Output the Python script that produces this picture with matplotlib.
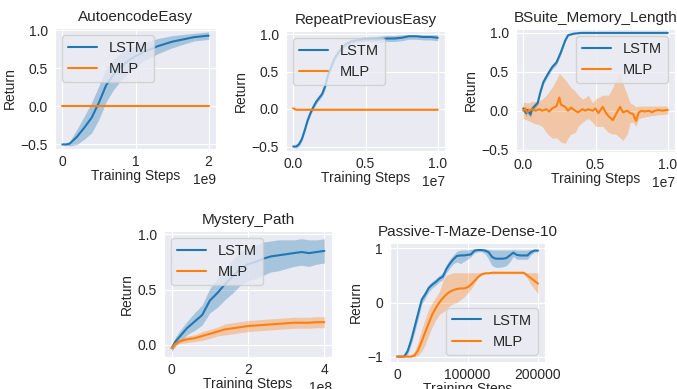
import numpy as np
import matplotlib
matplotlib.use("Agg")
import matplotlib.pyplot as plt
import seaborn as sns

# ---- AutoencodeEasy (x in 1e9 steps)
ae_x = [0, 0.05, 0.1, 0.2, 0.3, 0.4, 0.5, 0.6, 0.7, 0.8, 0.9, 1.0, 1.1, 1.2, 1.3, 1.4,
        1.5, 1.6, 1.7, 1.8, 1.9, 2.0]
ae_lstm = [-0.5, -0.5, -0.49, -0.4, -0.28, -0.15, 0.05, 0.28, 0.42, 0.52, 0.6, 0.66,
           0.71, 0.75, 0.79, 0.82, 0.85, 0.87, 0.89, 0.91, 0.92, 0.93]
ae_lstm_sd = [0, 0.01, 0.03, 0.1, 0.15, 0.2, 0.22, 0.22, 0.2, 0.18, 0.16, 0.14, 0.12,
              0.11, 0.1, 0.09, 0.08, 0.07, 0.06, 0.05, 0.05, 0.05]
ae_mlp = [0.0] * len(ae_x)

# ---- RepeatPreviousEasy (x in 1e7 steps)
rp_x = [0, 0.02, 0.04, 0.06, 0.08, 0.1, 0.12, 0.14, 0.16, 0.18, 0.2, 0.22, 0.24, 0.26,
        0.28, 0.3, 0.33, 0.36, 0.4, 0.45, 0.5, 0.55, 0.6, 0.65, 0.7, 0.75, 0.8, 0.85,
        0.9, 0.95, 1.0]
rp_lstm = [-0.5, -0.5, -0.47, -0.4, -0.28, -0.15, -0.05, 0.03, 0.1, 0.15, 0.2, 0.3,
           0.45, 0.55, 0.65, 0.72, 0.8, 0.86, 0.9, 0.92, 0.93, 0.93, 0.93, 0.94, 0.94,
           0.95, 0.97, 0.97, 0.96, 0.96, 0.95]
rp_lstm_sd = [0.01, 0.02, 0.03, 0.03, 0.03, 0.03, 0.03, 0.03, 0.03, 0.03, 0.03, 0.04,
              0.04, 0.04, 0.04, 0.03, 0.03, 0.03, 0.03, 0.03, 0.03, 0.03, 0.04, 0.04,
              0.04, 0.04, 0.04, 0.04, 0.04, 0.04, 0.04]
rp_mlp = [0.01] + [-0.01] * (len(rp_x) - 1)

# ---- BSuite_Memory_Length (x in 1e7 steps)
ms_lstm_x = [0, 0.02, 0.03, 0.05, 0.06, 0.08, 0.1, 0.12, 0.14, 0.17, 0.2, 0.23, 0.26,
             0.29, 0.31, 0.35, 0.4, 0.5, 0.6, 0.7, 0.8, 0.9, 1.0]
ms_lstm = [0.03, -0.03, 0.01, -0.05, 0.02, 0.06, 0.1, 0.25, 0.37, 0.47, 0.56, 0.62,
           0.75, 0.9, 0.97, 0.99, 1.0, 1.0, 1.0, 1.0, 1.0, 1.0, 1.0]
ms_lstm_sd = [0.04, 0.04, 0.04, 0.04, 0.04, 0.04, 0.03, 0.03, 0.03, 0.03, 0.03, 0.03,
              0.03, 0.02, 0.01, 0.005, 0.003, 0.002, 0.002, 0.002, 0.002, 0.002, 0.002]
ms_mlp_x = [0.0, 0.015, 0.026, 0.04, 0.06, 0.085, 0.11, 0.13, 0.16, 0.18, 0.2, 0.23,
            0.25, 0.26, 0.29, 0.31, 0.33, 0.36, 0.38, 0.41, 0.43, 0.45, 0.48, 0.5,
            0.52, 0.55, 0.57, 0.59, 0.62, 0.64, 0.67, 0.69, 0.72, 0.74, 0.76, 0.78,
            0.8, 0.82, 0.84, 0.87, 0.89, 0.91, 0.94, 0.96, 1.0]
ms_mlp = [0.0, 0.03, -0.02, 0.0, 0.02, 0.0, 0.02, 0.0, 0.02, -0.01, 0.03, 0.06,
          0.17, 0.08, 0.05, 0.0, 0.04, 0.0, -0.02, 0.02, 0.0, 0.02, 0.0, 0.03,
          -0.03, 0.05, -0.02, -0.07, -0.12, -0.05, 0.05, -0.02, 0.0, -0.03, -0.04, -0.13,
          -0.02, 0.0, -0.01, 0.0, -0.02, 0.0, 0.01, 0.0, 0.01]
ms_mlp_lo = [-0.1, -0.11, -0.12, -0.13, -0.15, -0.17, -0.18, -0.2, -0.28, -0.32, -0.35, -0.35,
             -0.38, -0.4, -0.42, -0.35, -0.3, -0.28, -0.2, -0.15, -0.12, -0.1, -0.15, -0.2,
             -0.2, -0.2, -0.24, -0.28, -0.3, -0.3, -0.35, -0.38, -0.3, -0.15, -0.15, -0.2,
             -0.1, -0.09, -0.08, -0.07, -0.06, -0.06, -0.05, -0.05, -0.04]
ms_mlp_hi = [0.1, 0.11, 0.1, 0.1, 0.12, 0.12, 0.13, 0.15, 0.2, 0.25, 0.3, 0.4,
             0.48, 0.46, 0.4, 0.35, 0.3, 0.25, 0.2, 0.15, 0.17, 0.2, 0.1, 0.15,
             0.17, 0.2, 0.2, 0.2, 0.3, 0.4, 0.47, 0.35, 0.2, 0.1, 0.08, 0.05,
             0.06, 0.06, 0.06, 0.06, 0.06, 0.06, 0.06, 0.06, 0.06]

# ---- Mystery_Path (x in 1e8 steps)
mp_x = [0, 0.1, 0.2, 0.4, 0.6, 0.8, 1.0, 1.2, 1.4, 1.6, 1.8, 2.0, 2.2, 2.4, 2.6, 2.8,
        3.0, 3.2, 3.4, 3.6, 3.8, 4.0]
mp_lstm = [-0.03, 0.03, 0.07, 0.15, 0.21, 0.27, 0.4, 0.47, 0.55, 0.62, 0.69, 0.73,
           0.75, 0.78, 0.8, 0.81, 0.82, 0.83, 0.84, 0.83, 0.84, 0.85]
mp_lstm_sd = [0.03, 0.04, 0.05, 0.06, 0.08, 0.09, 0.11, 0.13, 0.14, 0.15, 0.15, 0.15,
              0.15, 0.15, 0.14, 0.14, 0.13, 0.12, 0.12, 0.12, 0.11, 0.11]
mp_mlp = [-0.03, 0.01, 0.03, 0.05, 0.06, 0.08, 0.1, 0.12, 0.14, 0.15, 0.16, 0.17,
          0.175, 0.18, 0.185, 0.19, 0.195, 0.2, 0.2, 0.2, 0.205, 0.205]
mp_mlp_sd = [0.02, 0.02, 0.02, 0.03, 0.03, 0.04, 0.04, 0.04, 0.05, 0.05, 0.05, 0.05,
             0.05, 0.05, 0.05, 0.05, 0.05, 0.05, 0.05, 0.05, 0.05, 0.05]

# ---- Passive-T-Maze-Dense-10 (x in raw steps)
tm_x = list(range(0, 200001, 5000))
tm_lstm = [-1, -1, -1, -0.9, -0.7, -0.45, -0.2, 0.05, 0.15, 0.27, 0.33, 0.38, 0.44,
           0.48, 0.62, 0.72, 0.8, 0.86, 0.87, 0.87, 0.88, 0.89, 0.96, 0.97, 0.97,
           0.96, 0.93, 0.84, 0.81, 0.81, 0.81, 0.82, 0.87, 0.92, 0.88, 0.87, 0.87,
           0.87, 0.93, 0.96, 0.96]
tm_lstm_lo = [-1, -1, -1, -0.96, -0.78, -0.55, -0.3, -0.03, 0.08, 0.2, 0.27, 0.32, 0.38,
              0.42, 0.55, 0.64, 0.72, 0.75, 0.72, 0.76, 0.8, 0.85, 0.92, 0.94, 0.94,
              0.9, 0.8, 0.68, 0.65, 0.65, 0.66, 0.68, 0.75, 0.85, 0.8, 0.8, 0.8,
              0.8, 0.88, 0.93, 0.94]
tm_lstm_hi = [-1, -1, -0.98, -0.82, -0.6, -0.35, -0.1, 0.12, 0.22, 0.33, 0.39, 0.44, 0.5,
              0.55, 0.7, 0.8, 0.88, 0.95, 0.97, 0.97, 0.97, 0.98, 0.99, 0.99, 0.99,
              0.99, 0.98, 0.97, 0.97, 0.97, 0.97, 0.97, 0.97, 0.98, 0.97, 0.97, 0.97,
              0.97, 0.98, 0.98, 0.98]
tm_mlp = [-1, -1, -1, -1, -1, -0.98, -0.88, -0.72, -0.55, -0.38, -0.22, -0.1, 0.0,
          0.08, 0.15, 0.2, 0.23, 0.25, 0.26, 0.26, 0.28, 0.33, 0.4, 0.47, 0.52,
          0.54, 0.54, 0.55, 0.55, 0.55, 0.55, 0.55, 0.55, 0.55, 0.55, 0.55, 0.55,
          0.5, 0.45, 0.4, 0.35]
tm_mlp_lo = [-1, -1, -1, -1, -1, -1, -0.98, -0.9, -0.78, -0.6, -0.45, -0.32, -0.22,
             -0.18, -0.12, -0.06, -0.02, 0.0, 0.05, 0.1, 0.17, 0.25, 0.35, 0.46, 0.51,
             0.53, 0.53, 0.53, 0.53, 0.53, 0.53, 0.53, 0.53, 0.53, 0.53, 0.53, 0.53,
             0.45, 0.33, 0.25, 0.16]
tm_mlp_hi = [-1, -1, -1, -1, -0.97, -0.9, -0.72, -0.5, -0.3, -0.12, 0.0, 0.1, 0.2,
             0.4, 0.5, 0.53, 0.55, 0.55, 0.55, 0.55, 0.55, 0.55, 0.55, 0.55, 0.55,
             0.55, 0.55, 0.55, 0.55, 0.55, 0.55, 0.55, 0.55, 0.55, 0.55, 0.55, 0.55,
             0.55, 0.55, 0.55, 0.55]

BLUE = "#1f77b4"
ORANGE = "#ff7f0e"
FS = 10          # ticks / axis labels
FS_TITLE = 11
FS_LEGEND = 10.5

sns.set_style("darkgrid")
plt.rcParams["font.family"] = ["Liberation Sans", "DejaVu Sans"]
plt.rcParams["font.size"] = FS


def band(ax, x, y, lo, hi, color, label, scale):
    x = np.asarray(x) * scale
    ax.plot(x, y, color=color, lw=1.5, label=label)
    ax.fill_between(x, lo, hi, color=color, alpha=0.33, lw=0)


def sd_band(ax, x, y, sd, color, label, scale):
    y = np.asarray(y)
    sd = np.asarray(sd)
    band(ax, x, y, y - sd, np.minimum(y + sd, 0.99), color, label, scale)


def finish(ax, title, yticks, loc):
    ax.set_title(title, fontsize=FS_TITLE, pad=5)
    ax.set_xlabel("Training Steps", fontsize=FS, labelpad=0)
    ax.set_ylabel("Return", fontsize=FS, labelpad=3)
    ax.set_yticks(yticks)
    ax.tick_params(axis="x", labelsize=FS, pad=1)
    ax.tick_params(axis="y", labelsize=FS, pad=1.5)
    ax.xaxis.get_offset_text().set_fontsize(FS)
    ax.legend(loc=loc, fontsize=FS_LEGEND)


fig = plt.figure(figsize=(6.77, 3.89), dpi=100)
W, H = 677.0, 389.0


def axes_px(left, top, right, bottom):
    return fig.add_axes([left / W, 1 - bottom / H, (right - left) / W, (bottom - top) / H])


ax1 = axes_px(55, 28, 216, 149)
sd_band(ax1, ae_x, ae_lstm, ae_lstm_sd, BLUE, "LSTM", 1e9)
sd_band(ax1, ae_x, ae_mlp, [0.003] * len(ae_x), ORANGE, "MLP", 1e9)
ax1.set_ylim(-0.56, 1.03)
finish(ax1, "AutoencodeEasy", [-0.5, 0.0, 0.5, 1.0], "upper left")

ax2 = axes_px(286, 31, 445, 151)
sd_band(ax2, rp_x, rp_lstm, rp_lstm_sd, BLUE, "LSTM", 1e7)
sd_band(ax2, rp_x, rp_mlp, [0.005] * len(rp_x), ORANGE, "MLP", 1e7)
ax2.set_ylim(-0.56, 1.04)
finish(ax2, "RepeatPreviousEasy", [-0.5, 0.0, 0.5, 1.0], "upper left")

ax3 = axes_px(516, 29, 675, 152)
sd_band(ax3, ms_lstm_x, ms_lstm, ms_lstm_sd, BLUE, "LSTM", 1e7)
band(ax3, ms_mlp_x, ms_mlp, ms_mlp_lo, ms_mlp_hi, ORANGE, "MLP", 1e7)
ax3.set_ylim(-0.53, 1.05)
finish(ax3, "BSuite_Memory_Length", [-0.5, 0.0, 0.5, 1.0], "upper right")

ax4 = axes_px(164, 231, 332, 357)
sd_band(ax4, mp_x, mp_lstm, mp_lstm_sd, BLUE, "LSTM", 1e8)
sd_band(ax4, mp_x, mp_mlp, mp_mlp_sd, ORANGE, "MLP", 1e8)
ax4.set_ylim(-0.11, 1.03)
finish(ax4, "Mystery_Path", [0.0, 0.5, 1.0], "upper left")

ax5 = axes_px(390, 243, 545, 362)
band(ax5, tm_x, tm_lstm, tm_lstm_lo, tm_lstm_hi, BLUE, "LSTM", 1)
band(ax5, tm_x, tm_mlp, tm_mlp_lo, tm_mlp_hi, ORANGE, "MLP", 1)
ax5.set_ylim(-1.1, 1.1)
ax5.set_xticks([0, 100000, 200000])
finish(ax5, "Passive-T-Maze-Dense-10", [-1, 0, 1], "lower right")

fig.savefig("out.png", dpi=100)
